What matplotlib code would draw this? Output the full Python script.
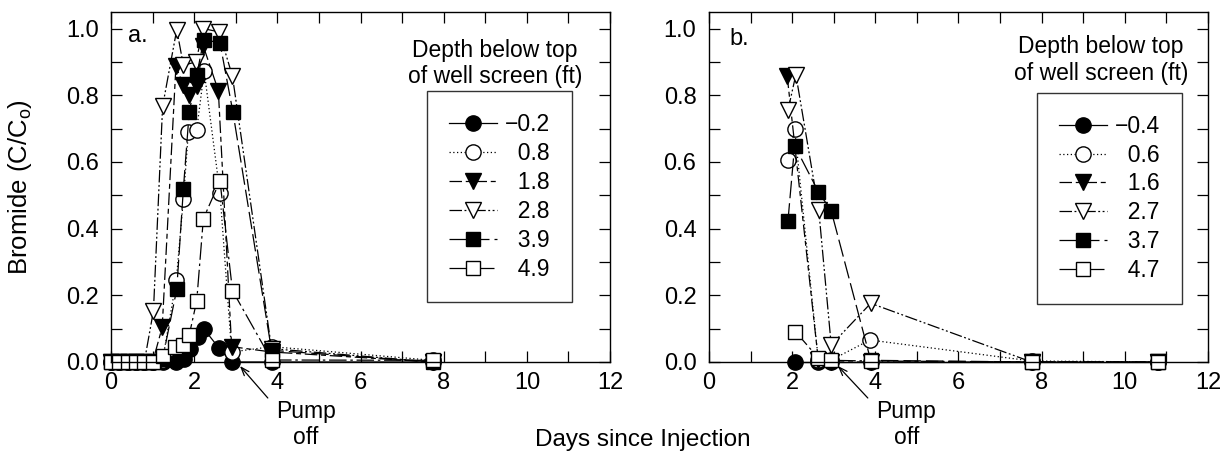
import matplotlib
matplotlib.use("Agg")
import matplotlib.pyplot as plt
from matplotlib.ticker import MultipleLocator

plt.rcParams['font.family'] = ['Liberation Sans', 'DejaVu Sans']
plt.rcParams['mathtext.fontset'] = 'custom'
plt.rcParams['mathtext.rm'] = 'Liberation Sans'

# ---------------- Panel a data ----------------
a_labels = ['\u22120.2', '\u20070.8', '\u20071.8', '\u20072.8', '\u20073.9', '\u20074.9']
a_t1 = [0, 0.2, 0.4, 0.6, 0.8, 1.0, 1.24, 1.57, 1.75, 1.90, 2.09, 2.24, 2.60, 2.90, 3.86, 7.74]
a_v1 = [0, 0, 0, 0, 0, 0, 0, 0, 0.01, 0.04, 0.076, 0.098, 0.041, 0.0, 0.0, 0.0]
a_t2 = [0, 0.2, 0.4, 0.6, 0.8, 1.0, 1.24, 1.57, 1.74, 1.86, 2.06, 2.24, 2.62, 2.90, 3.86, 7.74]
a_v2 = [0, 0, 0, 0, 0, 0, 0.005, 0.246, 0.49, 0.69, 0.697, 0.872, 0.506, 0.03, 0.046, 0.005]
a_t3 = [0, 0.2, 0.4, 0.6, 0.8, 1.0, 1.23, 1.56, 1.74, 1.88, 2.06, 2.22, 2.58, 2.90, 3.86, 7.74]
a_v3 = [0, 0, 0, 0, 0, 0, 0.104, 0.887, 0.83, 0.80, 0.827, 0.947, 0.814, 0.046, 0.03, 0.0]
a_t4 = [0, 0.2, 0.4, 0.6, 0.8, 1.02, 1.24, 1.58, 1.74, 2.04, 2.22, 2.60, 2.92, 3.86, 7.74]
a_v4 = [0, 0, 0, 0, 0, 0.154, 0.767, 0.997, 0.89, 0.90, 1.0, 0.99, 0.857, 0.04, 0.0]
a_t5 = [0, 0.2, 0.4, 0.6, 0.8, 1.0, 1.24, 1.58, 1.74, 1.88, 2.06, 2.23, 2.62, 2.93, 3.86, 7.74]
a_v5 = [0, 0, 0, 0, 0, 0, 0.01, 0.218, 0.52, 0.75, 0.86, 0.967, 0.957, 0.75, 0.035, 0.0]
a_t6 = [0, 0.2, 0.4, 0.6, 0.8, 1.0, 1.24, 1.54, 1.74, 1.88, 2.06, 2.22, 2.62, 2.92, 3.86, 7.74]
a_v6 = [0, 0, 0, 0, 0, 0, 0.018, 0.046, 0.051, 0.081, 0.183, 0.43, 0.543, 0.214, 0.006, 0.005]

# ---------------- Panel b data ----------------
b_labels = ['\u22120.4', '\u20070.6', '\u20071.6', '\u20072.7', '\u20073.7', '\u20074.7']
b_t1 = [2.06, 2.63, 2.93, 3.89, 7.76, 10.80]
b_v1 = [0, 0, 0, 0, 0, 0]
b_t2 = [1.90, 2.06, 2.63, 2.93, 3.87, 7.76, 10.80]
b_v2 = [0.607, 0.70, 0.005, 0.005, 0.066, 0.003, 0.0]
b_t3 = [1.88, 2.63, 2.93, 3.89, 7.76, 10.80]
b_v3 = [0.859, 0.005, 0.0, 0.0, 0.0, 0.0]
b_t4 = [1.90, 2.09, 2.64, 2.94, 3.89, 7.76, 10.80]
b_v4 = [0.755, 0.862, 0.456, 0.051, 0.176, 0.0, 0.0]
b_t5 = [1.90, 2.06, 2.63, 2.94, 3.89, 7.76, 10.80]
b_v5 = [0.424, 0.649, 0.511, 0.453, 0.005, 0.0, 0.0]
b_t6 = [2.08, 2.63, 2.93, 3.89, 7.76, 10.80]
b_v6 = [0.091, 0.012, 0.005, 0.003, 0.0, 0.0]

styles = [
    dict(marker='o', mfc='black', ls='-'),
    dict(marker='o', mfc='white', ls=(0, (1, 2))),
    dict(marker='v', mfc='black', ls=(0, (10, 3, 4, 3))),
    dict(marker='v', mfc='white', ls=(0, (10, 2, 1.5, 2, 1.5, 2))),
    dict(marker='s', mfc='black', ls=(0, (14, 4))),
    dict(marker='s', mfc='white', ls=(0, (14, 3, 2, 3))),
]
msizes = [11, 11, 11, 11, 10, 10]

fig = plt.figure(figsize=(12.27, 4.57), dpi=100)
ax_a = fig.add_axes([0.0905, 0.2079, 0.4067, 0.766])
ax_b = fig.add_axes([0.5778, 0.2079, 0.4067, 0.766])

FS = 17
LFS = 16.5


def setup(ax):
    ax.set_xlim(0, 12)
    ax.set_ylim(0, 1.05)
    ax.xaxis.set_major_locator(MultipleLocator(2))
    ax.xaxis.set_minor_locator(MultipleLocator(1))
    ax.yaxis.set_major_locator(MultipleLocator(0.2))
    ax.yaxis.set_minor_locator(MultipleLocator(0.1))
    ax.yaxis.set_major_formatter(matplotlib.ticker.FormatStrFormatter('%.1f'))
    ax.tick_params(which='both', direction='in', top=True, right=True,
                   length=8, width=0.9, labelsize=FS)
    ax.tick_params(axis='x', which='major', pad=7)
    ax.tick_params(axis='y', which='major', pad=9)
    for s in ax.spines.values():
        s.set_linewidth(1.0)


def draw(ax, series, labels, legend_anchor, title_xy, panel_label, label_xy, pump_text_xy, arrow_from):
    handles = []
    for (t, v), st, ms, lab in zip(series, styles, msizes, labels):
        h, = ax.plot(t, v, color='black', lw=0.9, linestyle=st['ls'],
                     marker=st['marker'], mfc=st['mfc'], mec='black', mew=1.0,
                     ms=ms, clip_on=False, label=lab)
        handles.append(h)
    leg = ax.legend(handles=handles, loc='upper left', bbox_to_anchor=legend_anchor,
                    borderaxespad=0, frameon=True, fancybox=False, fontsize=LFS,
                    handlelength=2.1, handletextpad=0.35, borderpad=0.95,
                    labelspacing=0.26)
    leg.get_frame().set_edgecolor('black')
    leg.get_frame().set_linewidth(1.0)
    ax.text(title_xy[0], title_xy[1], 'Depth below top\nof well screen (ft)',
            ha='center', va='center', fontsize=LFS, multialignment='center')
    ax.text(label_xy[0], label_xy[1], panel_label, ha='left', va='baseline', fontsize=FS)
    ax.text(pump_text_xy[0], pump_text_xy[1], 'Pump\noff', ha='center', va='center',
            fontsize=LFS, multialignment='center', clip_on=False)
    ax.annotate('', xy=(3.10, -0.012), xytext=arrow_from,
                arrowprops=dict(arrowstyle='->,head_length=0.6,head_width=0.22',
                                color='black', lw=0.9, shrinkA=0, shrinkB=0),
                annotation_clip=False)


setup(ax_a)
setup(ax_b)

draw(ax_a,
     [(a_t1, a_v1), (a_t2, a_v2), (a_t3, a_v3), (a_t4, a_v4), (a_t5, a_v5), (a_t6, a_v6)],
     a_labels, (0.633, 0.774), (9.23, 0.895), 'a.', (0.4, 0.96), (4.68, -0.188), (3.77, -0.108))
draw(ax_b,
     [(b_t1, b_v1), (b_t2, b_v2), (b_t3, b_v3), (b_t4, b_v4), (b_t5, b_v5), (b_t6, b_v6)],
     b_labels, (0.657, 0.769), (9.42, 0.905), 'b.', (0.5, 0.952), (4.75, -0.188), (3.82, -0.108))

ax_a.set_ylabel('Bromide (C/C$_{\\mathregular{o}}$)', fontsize=18.5)
ax_a.yaxis.set_label_coords(-0.154, 0.5)

fig.text(643 / 1227, 1 - 440 / 457, 'Days since Injection', ha='center', va='center', fontsize=17.5)

fig.savefig('out.png', dpi=100)
